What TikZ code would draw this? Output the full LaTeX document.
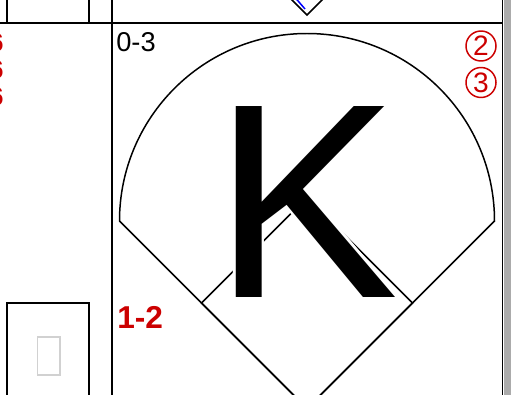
\documentclass[tikz,border=0pt]{standalone}
\usepackage{fontspec}
\setmainfont{Liberation Sans}
\definecolor{zettelrot}{RGB}{204,0,0}
\tikzset{%
		gitter/.style={draw,line width=1.1pt},
		feld/.style={draw,line width=0.85pt},
		zahl/.style={inner sep=0pt,anchor=base west},
		rotzahl/.style={zahl,text=zettelrot,font=\bfseries\fontsize{18}{20}\selectfont},
		kreis/.style={circle,draw=zettelrot,line width=0.85pt,text=zettelrot,minimum size=0.6cm,inner sep=0pt,font=\fontsize{16}{18}\selectfont}
	}
\begin{document}
\begin{tikzpicture}[x=0.02cm,y=-0.02cm]
      \useasboundingbox (0,0) rectangle (511,395);
      \clip (0,0) rectangle (511,395);
      % gitter
      \fill[black!33] (503.5,0) rectangle (511,395);
      \draw[gitter] (0,23) -- (502,23);
      \draw[gitter] (112,0) -- (112,395);
      \draw[gitter] (502.5,0) -- (502.5,395);
      \draw[gitter] (7,0) -- (7,23);
      \draw[gitter] (89,0) -- (89,23);
      \draw[gitter] (7,400) -- (7,303) -- (89,303) -- (89,400);
      \draw[black!18,line width=0.75pt] (37.5,337) rectangle (60,375);
      % feld darueber
      \draw[feld] (289,-3) -- (307,15) -- (325,-3);
      \draw[blue,line width=0.85pt] (295.5,-2) -- (305,9);
      % feld
      \draw[feld] (119.5,221) arc[start angle=180,end angle=360,radius=187.5] -- (307,408.5) -- cycle;
      \draw[feld] (307,408.5) -- (201.5,303) -- (307,197.5) -- (412.5,303) -- cycle;
      \foreach \w in {0,30,...,330}
        \node[zahl,text=white,font=\fontsize{158}{158}\selectfont,shift={(\w:2.5)}] (khalo\w) at (213,297) {K};
      \node[zahl,font=\fontsize{158}{158}\selectfont] (strikeout) at (213,297) {K};
      % texte
      \node[zahl,font=\fontsize{15.5}{18}\selectfont] (zaehler) at (116,52) {0-3};
      \node[rotzahl] (outs) at (117,328) {1-2};
      \node[kreis] (base2) at (481,46) {2};
      \node[kreis] (base3) at (481,82.5) {3};
      \foreach \y [count=\i] in {52,79,106}
        \node[rotzahl,anchor=base east,font=\bfseries\fontsize{14.5}{16}\selectfont] (links\i) at (4,\y) {6};
\end{tikzpicture}
\end{document}
